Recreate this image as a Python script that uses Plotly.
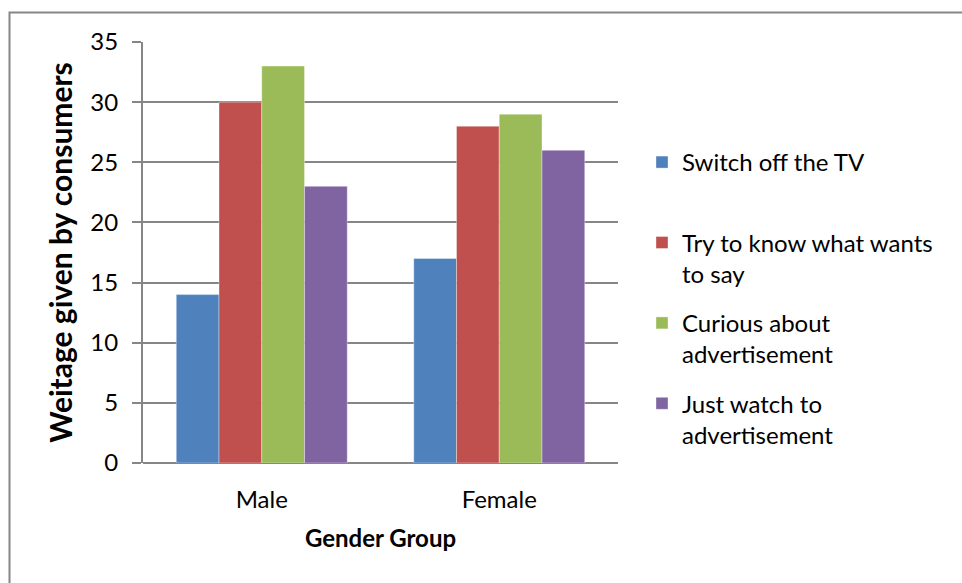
import plotly.graph_objects as go

# Survey categories and the weight each reaction received
groups = ["Male", "Female"]
series_names = [
    "Switch off the TV<br> ",
    "Try to know what wants<br>to say",
    "Curious about<br>advertisement",
    "Just watch to<br>advertisement",
]
switch_off = [14, 17]
try_to_know = [30, 28]
curious = [33, 29]
just_watch = [23, 26]
series_values = [switch_off, try_to_know, curious, just_watch]
colors = ["#4F81BD", "#C0504D", "#9BBB59", "#8064A2"]

y_ticks = [0, 5, 10, 15, 20, 25, 30, 35]

FONT = "Lato, 'Open Sans', sans-serif"

fig = go.Figure()
for name, vals, col in zip(series_names, series_values, colors):
    fig.add_trace(go.Bar(
        x=groups, y=vals, name=name, legendgroup=name,
        marker=dict(color=col, line=dict(color="rgba(255,255,255,0.6)", width=0.6)),
    ))

W, H = 962, 583
L, R, T, B = 143, 344, 42, 120
pw, ph = W - L - R, H - T - B


def px_x(p):
    return (p - L) / pw


def px_y(p):
    return (H - B - p) / ph


fig.update_layout(
    width=W, height=H,
    margin=dict(l=L, r=R, t=T, b=B, autoexpand=False),
    paper_bgcolor="white", plot_bgcolor="white",
    barmode="group", bargap=0.28, bargroupgap=0,
    font=dict(family=FONT, size=24, color="black"),
    showlegend=True,
    legend=dict(
        x=px_x(642), y=px_y(140), xanchor="left", yanchor="top",
        font=dict(family=FONT, size=24, color="black"),
        tracegroupgap=15, itemwidth=30, traceorder="grouped", valign="top",
        bgcolor="rgba(0,0,0,0)",
    ),
    xaxis=dict(
        showline=False, ticks="", showgrid=False,
        tickfont=dict(family=FONT, size=24), ticklabelstandoff=20,
        title=dict(text="<b>Gender Group</b>", font=dict(family=FONT, size=24), standoff=18),
    ),
    yaxis=dict(
        range=[0, 35], tickvals=y_ticks, ticktext=[str(v) for v in y_ticks],
        showline=True, linecolor="#868686", linewidth=2,
        ticks="outside", ticklen=9, tickcolor="#868686", tickwidth=2,
        showgrid=True, gridcolor="#868686", gridwidth=2,
        zeroline=True, zerolinecolor="#868686", zerolinewidth=2,
        tickfont=dict(family=FONT, size=24), ticklabelstandoff=9,
        title=dict(text="<b>Weitage given by consumers</b>",
                   font=dict(family=FONT, size=30), standoff=9),
    ),
    shapes=[dict(
        type="rect", xref="paper", yref="paper",
        x0=px_x(9.5), y0=px_y(700), x1=px_x(1100), y1=px_y(12.5),
        line=dict(color="#868686", width=2), fillcolor="rgba(0,0,0,0)", layer="below",
    )],
)

fig.write_html("out.html")
